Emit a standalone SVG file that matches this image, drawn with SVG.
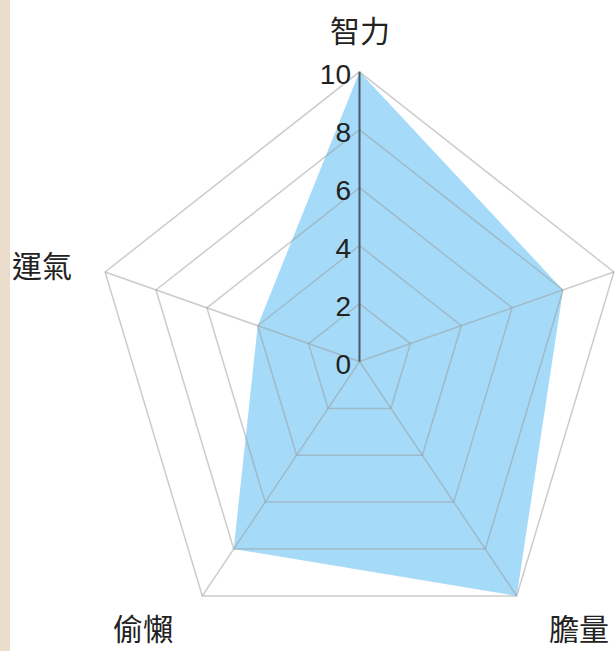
<svg xmlns="http://www.w3.org/2000/svg" width="616" height="651" viewBox="0 0 616 651">
  <style>
    .grid { fill: none; stroke: #999; stroke-opacity: 0.5; stroke-width: 1.5; stroke-linejoin: miter; }
    .spoke { stroke: #999; stroke-opacity: 0.5; stroke-width: 1.5; }
    .axis { stroke: #4a5868; stroke-width: 2; }
    .data { fill: #a5dbf8; stroke: none; }
    .tick { font-family: "Liberation Sans", Arial, sans-serif; font-size: 28px; fill: #222; text-anchor: end; }
    .lbl { font-family: "Noto Sans CJK TC", "Noto Sans CJK SC", sans-serif; font-size: 30px; fill: #222; text-anchor: middle; }
  </style>
  <rect x="0" y="0" width="616" height="651" fill="#ffffff"/>
  <rect x="0" y="0" width="10" height="651" fill="#ebdccb"/>

  <g id="data-area">
    <polygon class="data" points="359.5,71.8 563.0,289.9 516.7,595.9 233.7,549.0 257.7,325.7"/>
  </g>

  <g id="grid">
    <polygon class="grid" points="359.5,71.8 613.9,272.0 516.7,595.9 202.3,595.9 105.1,272.0"/>
    <polygon class="grid" points="359.5,129.7 563.0,289.9 485.3,549.0 233.7,549.0 156.0,289.9"/>
    <polygon class="grid" points="359.5,187.7 512.1,307.8 453.8,502.1 265.2,502.1 206.9,307.8"/>
    <polygon class="grid" points="359.5,245.6 461.3,325.7 422.4,455.3 296.6,455.3 257.7,325.7"/>
    <polygon class="grid" points="359.5,303.6 410.4,343.6 390.9,408.4 328.1,408.4 308.6,343.6"/>
  </g>

  <g id="connectors">
    <line class="spoke" x1="359.5" y1="361.5" x2="613.9" y2="272.0"/>
    <line class="spoke" x1="359.5" y1="361.5" x2="516.7" y2="595.9"/>
    <line class="spoke" x1="359.5" y1="361.5" x2="202.3" y2="595.9"/>
    <line class="spoke" x1="359.5" y1="361.5" x2="105.1" y2="272.0"/>
    <line class="axis" x1="359.5" y1="71.8" x2="359.5" y2="361.5"/>
  </g>

  <g id="ticks">
    <text class="tick" x="351" y="84">10</text>
    <text class="tick" x="351" y="142">8</text>
    <text class="tick" x="351" y="200">6</text>
    <text class="tick" x="351" y="258">4</text>
    <text class="tick" x="351" y="316">2</text>
    <text class="tick" x="351" y="374">0</text>
  </g>

  <g id="label-intelligence"><text class="lbl" x="360" y="41.5">智力</text></g>
  <g id="label-luck"><text class="lbl" x="42" y="276.5">運氣</text></g>
  <g id="label-lazy"><text class="lbl" x="143" y="640">偷懶</text></g>
  <g id="label-courage"><text class="lbl" x="579" y="640">膽量</text></g>
</svg>
